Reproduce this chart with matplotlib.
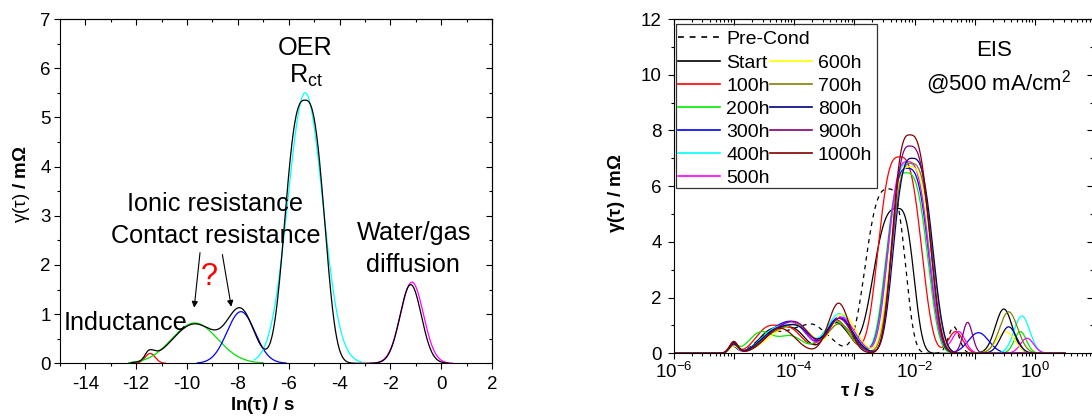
import numpy as np
import matplotlib
matplotlib.use("Agg")
import matplotlib.pyplot as plt
from matplotlib.ticker import MultipleLocator, LogLocator, FuncFormatter, NullFormatter
from matplotlib.patches import Rectangle

plt.rcParams['font.family'] = ['Liberation Sans', 'DejaVu Sans']
plt.rcParams['mathtext.fontset'] = 'custom'
plt.rcParams['mathtext.rm'] = 'Liberation Sans'
plt.rcParams['mathtext.it'] = 'Liberation Sans:italic'
plt.rcParams['mathtext.bf'] = 'Liberation Sans:bold'
plt.rcParams['axes.unicode_minus'] = False

# ---- left panel: one DRT spectrum and its peak fits (x = ln tau) ----
# a peak is (centre, height, width left, width right, shape exponent)
fit_colors = ['#FF0000', '#00E000', '#0000FF', '#00FFFF', '#FF00FF']
fit_centres = [-11.45, -9.7, -7.88, -5.35, -1.15]
fit_heights = [0.2, 0.82, 1.05, 5.5, 1.65]
fit_widths = [0.2, 0.9, 0.55, 0.68, 0.45]
fit_starts = [-12.0, -12.3, -9.6, -7.35, -2.8]
fit_ends = [-10.85, -7.0, -6.1, -3.15, 0.45]

drt_peaks = [(-11.5, 0.17, 0.15, 0.22, 2), (-9.7, 0.8, 0.88, 0.88, 2),
             (-7.88, 1.03, 0.52, 0.52, 2), (-5.36, 5.35, 0.74, 0.72, 2.8),
             (-1.2, 1.6, 0.42, 0.42, 2)]
drt_range = (-12.2, 0.3)

# ---- right panel: DRT over the durability test (x = log10 tau) ----
precond = [(-5.0, 0.28, .07, .07, 2), (-4.4, 0.7, .22, .22, 2), (-3.95, 0.7, .2, .2, 2),
           (-3.62, 0.8, .18, .26, 2), (-2.43, 5.9, .36, .26, 3), (-1.35, 0.95, .09, .09, 2)]
start = [(-5.0, 0.38, .07, .07, 2), (-4.4, 0.75, .2, .2, 2), (-4.0, 0.8, .2, .2, 2),
         (-3.3, 1.1, .17, .2, 2), (-2.28, 5.2, .38, .25, 3), (-0.52, 1.59, .14, .14, 2)]
h100 = [(-5.0, 0.3, .07, .07, 2), (-4.45, 0.85, .2, .2, 2), (-4.05, 0.8, .2, .2, 2),
        (-3.3, 1.2, .2, .2, 2), (-2.25, 7.05, .33, .34, 3), (-1.32, 0.78, .12, .12, 2)]
h200 = [(-5.0, 0.25, .07, .07, 2), (-4.55, 0.75, .2, .2, 2), (-4.05, 0.6, .2, .2, 2),
        (-3.3, 1.15, .22, .22, 2), (-2.14, 6.48, .31, .33, 3), (-0.245, 0.78, .1, .1, 2)]
h300 = [(-5.02, 0.25, .07, .07, 2), (-4.3, 0.8, .25, .25, 2), (-3.95, 0.75, .2, .2, 2),
        (-3.25, 1.3, .2, .22, 2), (-2.12, 6.64, .31, .33, 3), (-0.94, 0.74, .17, .17, 2)]
h400 = [(-5.0, 0.25, .07, .07, 2), (-4.3, 0.85, .25, .25, 2), (-3.9, 0.7, .2, .2, 2),
        (-3.25, 1.42, .2, .22, 2), (-2.11, 6.82, .31, .33, 3), (-0.22, 1.34, .13, .13, 2)]
h500 = [(-5.0, 0.3, .07, .07, 2), (-4.3, 0.7, .25, .25, 2), (-3.95, 0.8, .2, .2, 2),
        (-3.22, 1.3, .2, .22, 2), (-2.12, 6.88, .3, .33, 3), (-1.27, 0.78, .11, .11, 2),
        (-0.135, 0.54, .11, .11, 2)]
h600 = [(-5.0, 0.25, .07, .07, 2), (-4.2, 0.75, .28, .28, 2), (-3.85, 0.6, .2, .2, 2),
        (-3.2, 1.4, .18, .22, 2), (-2.08, 6.7, .3, .33, 3), (-0.49, 0.78, .15, .15, 2)]
h700 = [(-5.0, 0.3, .07, .07, 2), (-4.3, 0.7, .25, .25, 2), (-3.9, 0.8, .2, .2, 2),
        (-3.25, 1.05, .2, .22, 2), (-2.06, 6.82, .3, .33, 3), (-0.44, 1.49, .15, .15, 2)]
h800 = [(-5.0, 0.32, .07, .07, 2), (-4.3, 0.8, .25, .25, 2), (-3.9, 0.72, .2, .2, 2),
        (-3.25, 1.25, .2, .22, 2), (-2.04, 7.0, .29, .32, 3), (-0.44, 0.95, .13, .13, 2)]
h900 = [(-5.0, 0.35, .07, .07, 2), (-4.25, 0.8, .25, .25, 2), (-3.9, 0.75, .2, .2, 2),
        (-3.25, 1.25, .18, .2, 2), (-2.08, 7.44, .27, .32, 3), (-1.12, 1.11, .08, .08, 2)]
h1000 = [(-5.0, 0.42, .07, .07, 2), (-4.23, 0.9, .25, .25, 2), (-3.26, 1.8, .17, .17, 2),
         (-2.08, 7.84, .27, .31, 3)]

series_labels = ['Pre-Cond', 'Start', '100h', '200h', '300h', '400h', '500h',
                 '600h', '700h', '800h', '900h', '1000h']
series_peaks = [precond, start, h100, h200, h300, h400, h500, h600, h700, h800, h900, h1000]
series_colors = ['black', 'black', '#FF0000', '#00EE00', '#0000FF', '#00FFFF', '#FF00FF',
                 '#FFFF00', '#808000', '#000080', '#800080', '#800000']
log_tau_range = (-6.0, 0.5)


def peak_sum(x, peaks):
    y = np.zeros_like(x)
    for c, h, sl, sr, p in peaks:
        s = np.where(x < c, sl, sr)
        y += h * np.exp(-0.5 * np.abs((x - c) / s) ** p)
    return y


def add_inner_ticks(ax, xmajor, xminor, ymajor, yminor):
    top = ax.secondary_xaxis('top')
    right = ax.secondary_yaxis('right')
    top.xaxis.set_major_locator(xmajor)
    top.xaxis.set_minor_locator(xminor)
    right.yaxis.set_major_locator(ymajor)
    right.yaxis.set_minor_locator(yminor)
    for sec in (top, right):
        sec.tick_params(which='both', direction='in', labelleft=False, labelright=False,
                        labeltop=False, labelbottom=False, width=0.8)
        sec.tick_params(which='major', length=4.5)
        sec.tick_params(which='minor', length=2.5)
    return top, right


W, H = 1092, 419
fig = plt.figure(figsize=(W / 100, H / 100), dpi=100)

# ---------------- left ----------------
ax1 = fig.add_axes([60 / W, 1 - 363.3 / H, (492 - 60) / W, (363.3 - 19) / H])
for col, c, h, s, a, b in zip(fit_colors, fit_centres, fit_heights, fit_widths, fit_starts, fit_ends):
    x = np.linspace(a, b, 300)
    ax1.plot(x, peak_sum(x, [(c, h, s, s, 2)]), color=col, lw=0.9)
x = np.linspace(drt_range[0], drt_range[1], 1500)
ax1.plot(x, peak_sum(x, drt_peaks), color='black', lw=0.9)

ax1.set_xlim(-15, 2)
ax1.set_ylim(0, 7)
ax1.xaxis.set_major_locator(MultipleLocator(2))
ax1.xaxis.set_minor_locator(MultipleLocator(1))
ax1.yaxis.set_major_locator(MultipleLocator(1))
ax1.yaxis.set_minor_locator(MultipleLocator(0.5))
ax1.tick_params(which='both', direction='out', labelsize=13.5, width=0.8)
ax1.tick_params(which='major', length=4.5)
ax1.tick_params(which='minor', length=2.5)
ax1.tick_params(axis='x', pad=5)
ax1.tick_params(axis='y', pad=2)
add_inner_ticks(ax1, MultipleLocator(2), MultipleLocator(1), MultipleLocator(1), MultipleLocator(0.5))
ax1.set_xlabel(r'ln($\mathbf{\tau}$) / s', fontsize=13.5, fontweight='bold')
ax1.xaxis.set_label_coords(0.468, -0.092)
ax1.set_ylabel(r'$\mathrm{\gamma(\tau)}$ / m$\mathbf{\Omega}$', fontsize=13.5, fontweight='bold')
ax1.yaxis.set_label_coords(-0.064, 0.52)

fs = 18.2
ax1.text(-5.37, 6.42, 'OER', fontsize=fs, ha='center', va='center')
ax1.text(-5.3, 5.85, r'R$_{\mathrm{ct}}$', fontsize=fs, ha='center', va='center')
ax1.text(-8.89, 3.24, 'Ionic resistance', fontsize=fs, ha='center', va='center')
ax1.text(-8.89, 2.59, 'Contact resistance', fontsize=fs, ha='center', va='center')
ax1.text(-1.05, 2.65, 'Water/gas', fontsize=fs, ha='center', va='center')
ax1.text(-1.1, 2.0, 'diffusion', fontsize=fs, ha='center', va='center')
ax1.text(-14.85, 0.82, 'Inductance', fontsize=fs, ha='left', va='center')
ax1.text(-9.13, 1.76, '?', fontsize=22, color='red', ha='center', va='center')
arrow = dict(arrowstyle='-|>', color='black', lw=0.8, mutation_scale=9, shrinkA=0, shrinkB=0)
ax1.annotate('', xy=(-9.72, 1.13), xytext=(-9.49, 2.25), arrowprops=arrow)
ax1.annotate('', xy=(-8.26, 1.15), xytext=(-8.61, 2.21), arrowprops=arrow)

# ---------------- right ----------------
ax2 = fig.add_axes([673.5 / W, 1 - 353.3 / H, (1093 - 673.5) / W, (353.3 - 19) / H])
u = np.linspace(log_tau_range[0], log_tau_range[1], 1600)
lines = []
for lab, pk, col in zip(series_labels, series_peaks, series_colors):
    ls = (0, (3.5, 3.5)) if lab == 'Pre-Cond' else '-'
    ln, = ax2.plot(10 ** u, peak_sum(u, pk), color=col, lw=0.9, ls=ls, label=lab)
    lines.append(ln)

ax2.set_xscale('log')
ax2.set_xlim(1e-6, 10 ** 0.96)
ax2.set_ylim(0, 12)
ax2.xaxis.set_major_locator(LogLocator(base=10, subs=(1.0,), numticks=20))
ax2.xaxis.set_minor_locator(LogLocator(base=10, subs=np.arange(2, 10), numticks=20))
ax2.xaxis.set_minor_formatter(NullFormatter())


def even_decades(v, pos):
    e = int(round(np.log10(v)))
    return r'$\mathdefault{10^{%d}}$' % e if e % 2 == 0 else ''


ax2.xaxis.set_major_formatter(FuncFormatter(even_decades))
ax2.yaxis.set_major_locator(MultipleLocator(2))
ax2.yaxis.set_minor_locator(MultipleLocator(1))
ax2.tick_params(which='both', direction='out', labelsize=13.5, width=0.8)
ax2.tick_params(which='major', length=4.5)
ax2.tick_params(which='minor', length=2.5)
ax2.tick_params(axis='x', pad=2)
ax2.tick_params(axis='y', pad=4)
add_inner_ticks(ax2, LogLocator(base=10, subs=(1.0,), numticks=20),
                LogLocator(base=10, subs=np.arange(2, 10), numticks=20),
                MultipleLocator(2), MultipleLocator(1))
ax2.set_xlabel(r'$\mathbf{\tau}$ / s', fontsize=13.5, fontweight='bold')
ax2.xaxis.set_label_coords(0.44, -0.089)
ax2.set_ylabel(r'$\mathbf{\gamma(\tau)}$ / m$\mathbf{\Omega}$', fontsize=13.5, fontweight='bold')
ax2.yaxis.set_label_coords(-0.11, 0.48)

ax2.text(0.764, 0.907, 'EIS', fontsize=16, ha='center', va='center', transform=ax2.transAxes)
ax2.text(0.774, 0.808, r'@500 mA/cm$^{2}$', fontsize=16, ha='center', va='center',
         transform=ax2.transAxes)

# legend: frame drawn as a box, Pre-Cond row spans both columns
ax2.add_patch(Rectangle((0.006, 0.4945), 0.478, 0.4905, transform=ax2.transAxes,
                        fill=False, ec='#333333', lw=0.9, zorder=5))
leg_kw = dict(frameon=False, fontsize=14, handlelength=2.16, handletextpad=0.31,
              borderpad=0, borderaxespad=0, labelspacing=0.277, loc='upper left')
leg_a = ax2.legend(handles=[lines[0]], bbox_to_anchor=(0.011, 0.967), **leg_kw)
ax2.add_artist(leg_a)
ax2.legend(handles=lines[1:], ncol=2, columnspacing=0.0,
           bbox_to_anchor=(0.011, 0.894), **leg_kw)
for leg in ax2.get_legend(), leg_a:
    for h in leg.legend_handles:
        h.set_linewidth(1.2)

fig.savefig('out.png', dpi=100)
